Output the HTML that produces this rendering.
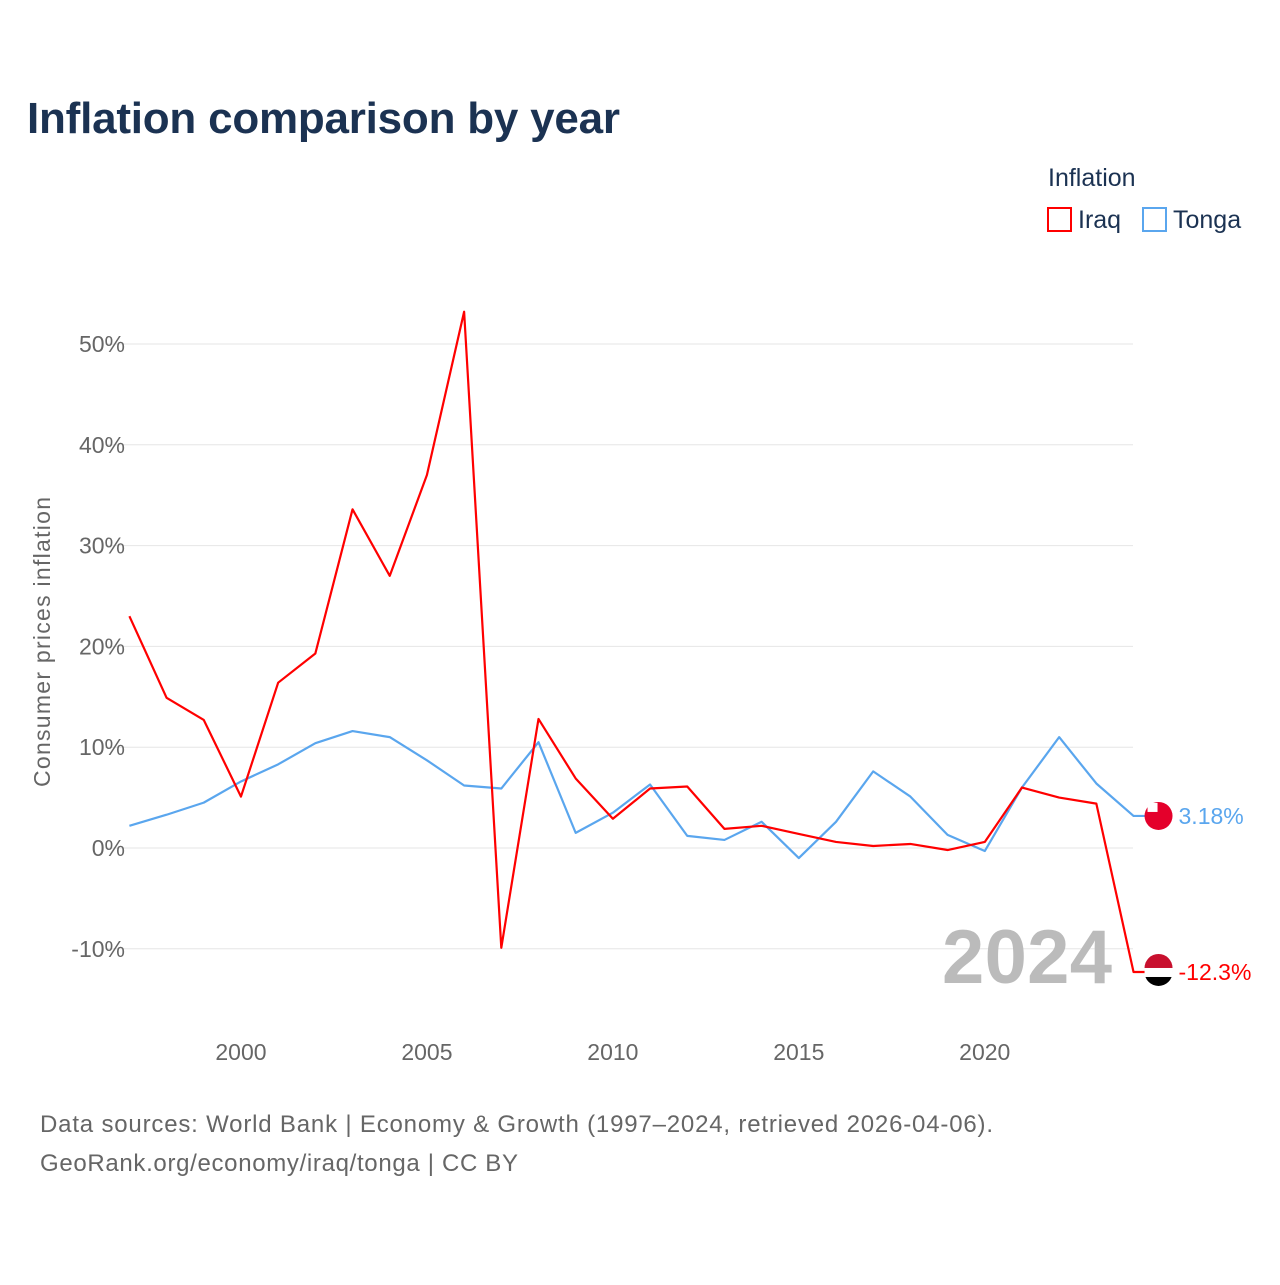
<!DOCTYPE html>
<html><head><meta charset="utf-8"><style>
body{margin:0;background:#fff;font-family:"Liberation Sans",sans-serif;}
</style></head><body>
<svg id="c" width="1280" height="1280" xmlns="http://www.w3.org/2000/svg">
<rect width="1280" height="1280" fill="#fff"/>
<text x="27" y="133" font-size="44" font-weight="bold" fill="#1b3252" textLength="593">Inflation comparison by year</text>
<text x="1048" y="186" font-size="25" fill="#1b3252">Inflation</text>
<g><rect x="1048" y="208" width="23" height="23" fill="none" stroke="#f00" stroke-width="2"/><text x="1078" y="228" font-size="25" fill="#1b3252">Iraq</text></g>
<g><rect x="1143" y="208" width="23" height="23" fill="none" stroke="#5aa6ee" stroke-width="2"/><text x="1173" y="228" font-size="25" fill="#1b3252">Tonga</text></g>
<text transform="translate(50,642) rotate(-90)" text-anchor="middle" font-size="23" fill="#666" textLength="290">Consumer prices inflation</text>
<g id="grid"></g><g id="ticks"></g>
<text x="1112" y="983" text-anchor="end" font-size="76" font-weight="bold" fill="#bbb" textLength="170">2024</text>
<g id="lines"></g>
<text x="40" y="1132" font-size="24" fill="#666" textLength="953">Data sources: World Bank | Economy &amp; Growth (1997–2024, retrieved 2026-04-06).</text>
<text x="40" y="1171" font-size="24" fill="#666" textLength="478">GeoRank.org/economy/iraq/tonga | CC BY</text>
</svg>
<script>
const years=[1997,1998,1999,2000,2001,2002,2003,2004,2005,2006,2007,2008,2009,2010,2011,2012,2013,2014,2015,2016,2017,2018,2019,2020,2021,2022,2023,2024];
const iraq=[23.0,14.9,12.7,5.1,16.4,19.3,33.6,27.0,37.0,53.2,-9.9,12.8,6.9,2.9,5.9,6.1,1.9,2.2,1.4,0.6,0.2,0.4,-0.2,0.6,6.0,5.0,4.4,-12.3];
const tonga=[2.2,3.3,4.5,6.6,8.3,10.4,11.6,11.0,8.7,6.2,5.9,10.5,1.5,3.5,6.3,1.2,0.8,2.6,-1.0,2.6,7.6,5.1,1.3,-0.3,6.0,11.0,6.4,3.18];
const yTicks=[-10,0,10,20,30,40,50];
const xTicks=[2000,2005,2010,2015,2020];
const NS="http://www.w3.org/2000/svg";
const X=y=>129.4+(y-1997)*37.19;
const Y=v=>848-v*10.08;
function mk(t,a,p){const e=document.createElementNS(NS,t);for(const k in a)e.setAttribute(k,a[k]);p.appendChild(e);return e;}
const g=document.getElementById('grid'),tk=document.getElementById('ticks'),ln=document.getElementById('lines');
yTicks.forEach(v=>{
 const l=mk('line',{x1:105,x2:1133,y1:Y(v),y2:Y(v),stroke:'#e6e6e6','stroke-width':1},g);
 
 
 const t=mk('text',{x:125,y:Y(v)+8,'text-anchor':'end','font-size':23,fill:'#666'},tk);
 t.textContent=v+'%';
 
 
});
xTicks.forEach(v=>{
 const t=mk('text',{x:X(v),y:1060,'text-anchor':'middle','font-size':23,fill:'#666'},tk);
 t.textContent=v;
 
 
});
function series(vals,color,name,label){
 const last=vals[vals.length-1];
 const xe=X(years[years.length-1]);
 const pts=vals.map((v,i)=>X(years[i])+','+Y(v));
 pts.push((xe+12)+','+Y(last));
 const p=mk('polyline',{points:pts.join(' '),fill:'none',stroke:color,'stroke-width':2.2,'stroke-linejoin':'round'},ln);
 
 
 const c=mk('circle',{cx:xe+25,cy:Y(last),r:14,fill:name=='iraq'?'#000':'#e4002b'},ln);
 
 
 if(name=='iraq'){mk('path',{d:`M${xe+11},${Y(last)-4} a14,14 0 0 1 28,0 z`,fill:'#c8102e'},ln);mk('rect',{x:xe+11,y:Y(last)-4,width:28,height:9,fill:'#fff'},ln);}
 else{mk('rect',{x:xe+14,y:Y(last)-13,width:10,height:9,fill:'#fff'},ln);}
 const t=mk('text',{x:xe+45,y:Y(last)+8,'font-size':23,fill:color},ln);
 t.textContent=label;
 
 
}
series(tonga,'#5aa6ee','tonga',tonga[tonga.length-1].toFixed(2)+'%');
series(iraq,'#f00','iraq',iraq[iraq.length-1].toFixed(1)+'%');
</script>
</body></html>
